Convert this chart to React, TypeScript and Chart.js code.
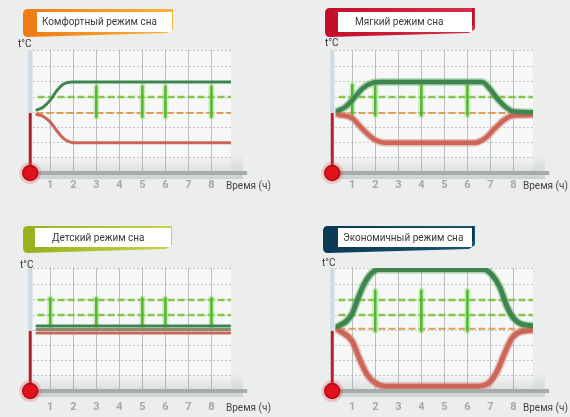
import React, { useEffect, useRef } from "react";
import { Chart, registerables } from "chart.js";

Chart.register(...registerables);
Chart.defaults.font.family = "Roboto, 'Open Sans', sans-serif";

type Pt = [number, number];

// ---------------- data ----------------
const HOURS = [1, 2, 3, 4, 5, 6, 7, 8];
const X_TITLE = "Время (ч)";
const Y_TITLE = "t°C";
const TITLES = ["Комфортный режим сна", "Мягкий режим сна", "Детский режим сна", "Экономичный режим сна"];
const SETPOINT = 3.95;
const X_RANGE: Pt = [0.25, 8.85];
const Y_RANGE: Pt = [0, 8.1];
const THERMO_X = 0.13;
const STAR_X = -0.52;
const AXIS_END = 9.55;

const comfortHigh: Pt[] = [[0.42, 4.15], [0.7, 4.35], [1.0, 4.8], [1.3, 5.45], [1.6, 5.88], [1.95, 6.0], [8.85, 6.0]];
const comfortLow: Pt[] = [[0.42, 3.85], [0.7, 3.72], [1.0, 3.35], [1.3, 2.75], [1.6, 2.25], [2.0, 2.0], [8.85, 2.0]];
const comfortBars = [3, 5, 6, 8];
const comfortBarSpan: Pt = [3.7, 5.7];
const comfortGreenDash = [5];
const comfortOrangeDash = [3.95];

const softHigh: Pt[] = [[0.38, 4.1], [0.7, 4.35], [1.0, 4.8], [1.47, 5.6], [1.9, 5.95], [2.2, 6.0], [6.64, 6.0], [7.0, 5.5], [7.35, 4.8], [7.7, 4.3], [8.0, 4.05], [8.85, 4.0]];
const softLow: Pt[] = [[0.38, 3.85], [1.0, 3.6], [1.47, 2.85], [2.0, 2.17], [2.4, 2.0], [6.35, 2.0], [6.78, 2.3], [7.2, 2.95], [7.6, 3.5], [8.0, 3.78], [8.85, 3.82]];
const softBars = [1, 2, 4, 6];
const softBarSpan: Pt = [3.8, 5.8];
const softGreenDash = [5];
const softOrangeDash = [3.95];

const childHigh: Pt[] = [[0.42, 4.28], [8.8, 4.28]];
const childMid: Pt[] = [[0.42, 4.05], [8.8, 4.05]];
const childLow: Pt[] = [[0.42, 3.82], [8.8, 3.82]];
const childBars = [1, 3, 5, 6, 8];
const childBarSpan: Pt = [4.3, 6.1];
const childGreenDash = [6, 5];
const childOrangeDash: number[] = [];

const ecoHigh: Pt[] = [[0.38, 4.26], [0.75, 4.6], [1.0, 5.1], [1.2, 5.9], [1.5, 7.0], [1.78, 7.66], [2.14, 8.0], [6.7, 8.0], [7.06, 7.66], [7.42, 6.8], [7.71, 5.6], [8.0, 4.8], [8.36, 4.4], [8.85, 4.3]];
const ecoLow: Pt[] = [[0.38, 4.04], [1.0, 3.27], [1.3, 2.17], [1.65, 1.07], [2.0, 0.53], [2.45, 0.31], [6.42, 0.31], [6.93, 0.53], [7.29, 1.3], [7.65, 2.6], [7.94, 3.5], [8.3, 3.9], [8.85, 4.0]];
const ecoBars = [2, 4, 6];
const ecoBarSpan: Pt = [3.95, 6.6];
const ecoGreenDash = [6, 5];
const ecoOrangeDash = [4.1];

// ---------------- layout / styles ----------------
interface Tab { x: number; y: number; w: number; h: number; wx: number; wy: number; ww: number; wh: number; tx: number; ty: number; c0: string; c1: string; edge?: boolean }
interface Spec {
  title: string;
  left: number; top: number; width: number; height: number;
  pad: [number, number, number];
  axisH: number; tickPad: number;
  tab: Tab;
  tC: Pt; timeLbl: Pt;
  high: Pt[]; low: Pt[]; mid?: Pt[];
  lineW: number; halo: boolean;
  bars: number[]; barSpan: Pt;
  greenDash: number[]; orangeDash: number[]; dashFrom: number;
}

const GREEN = "#3f8550";
const RED = "#cb6659";
const TEXT_FONT = "10px Roboto";

const SPECS: Spec[] = [
  {
    title: TITLES[0], left: 0, top: 0, width: 285, height: 208, pad: [33, 54, 50], axisH: 35, tickPad: 6,
    tab: { x: 23, y: 9, w: 150, h: 28, wx: 37, wy: 12, ww: 135, wh: 20, tx: 42, ty: 22, c0: "#ee7a12", c1: "#f7b53c" },
    tC: [18, 44], timeLbl: [226, 186],
    high: comfortHigh, low: comfortLow, lineW: 3, halo: false,
    bars: comfortBars, barSpan: comfortBarSpan, greenDash: comfortGreenDash, orangeDash: comfortOrangeDash, dashFrom: 0.45,
  },
  {
    title: TITLES[1], left: 285, top: 0, width: 285, height: 208, pad: [50, 37, 50], axisH: 35, tickPad: 6,
    tab: { x: 40, y: 8, w: 150, h: 29, wx: 53, wy: 12, ww: 134, wh: 20, tx: 70, ty: 22, c0: "#c30d2a", c1: "#d3304a", edge: true },
    tC: [40, 43], timeLbl: [238, 186],
    high: softHigh, low: softLow, lineW: 4.5, halo: true,
    bars: softBars, barSpan: softBarSpan, greenDash: softGreenDash, orangeDash: softOrangeDash, dashFrom: 0.4,
  },
  {
    title: TITLES[2], left: 0, top: 208, width: 285, height: 209, pad: [33, 54, 60], axisH: 26, tickPad: 10,
    tab: { x: 23, y: 18, w: 149, h: 27, wx: 35, wy: 20, ww: 136, wh: 19, tx: 52, ty: 30, c0: "#97b01c", c1: "#cad24a" },
    tC: [20, 57], timeLbl: [226, 200],
    high: childHigh, low: childLow, mid: childMid, lineW: 3, halo: false,
    bars: childBars, barSpan: childBarSpan, greenDash: childGreenDash, orangeDash: childOrangeDash, dashFrom: 0.45,
  },
  {
    title: TITLES[3], left: 285, top: 208, width: 285, height: 209, pad: [50, 37, 60], axisH: 26, tickPad: 10,
    tab: { x: 38, y: 18, w: 152, h: 27, wx: 53, wy: 20, ww: 134, wh: 19, tx: 58, ty: 30, c0: "#0b3852", c1: "#1c5672", edge: true },
    tC: [37, 55], timeLbl: [238, 200],
    high: ecoHigh, low: ecoLow, lineW: 5, halo: true,
    bars: ecoBars, barSpan: ecoBarSpan, greenDash: ecoGreenDash, orangeDash: ecoOrangeDash, dashFrom: 0.4,
  },
];

const xy = (pts: Pt[]) => pts.map(([x, y]) => ({ x, y }));

function makeStar(size: number, color: string) {
  const c = document.createElement("canvas");
  c.width = size; c.height = size;
  const g = c.getContext("2d")!;
  g.fillStyle = color;
  g.beginPath();
  for (let i = 0; i < 10; i++) {
    const r = i % 2 ? size * 0.22 : size * 0.5;
    const a = -Math.PI / 2 + (i * Math.PI) / 5;
    g.lineTo(size / 2 + r * Math.cos(a), size / 2 + r * Math.sin(a));
  }
  g.closePath();
  g.fill();
  return c;
}

function buildDatasets(s: Spec, star: HTMLCanvasElement) {
  const base = { pointRadius: 0, fill: false, tension: 0, borderCapStyle: "round" as const, spanGaps: false };
  const list: any[] = [];
  s.greenDash.forEach((lv) => list.push({ ...base, data: xy([[s.dashFrom, lv], [X_RANGE[1], lv]]), borderColor: "rgba(120,190,50,0.85)", borderWidth: 2.5, borderDash: [7, 3], borderCapStyle: "butt" }));
  s.orangeDash.forEach((lv) => list.push({ ...base, data: xy([[0.4, lv], [X_RANGE[1], lv]]), borderColor: "rgba(220,150,70,0.9)", borderWidth: 2, borderDash: [7, 3], borderCapStyle: "butt" }));
  const barData = s.bars.flatMap((x) => [{ x, y: s.barSpan[0] }, { x, y: s.barSpan[1] }, { x, y: null }]);
  list.push({ ...base, data: barData, borderColor: "rgba(150,225,100,0.45)", borderWidth: 6 });
  list.push({ ...base, data: barData, borderColor: "#4fb636", borderWidth: 2.5 });
  const curve = (d: Pt[], c: string, w: number) => ({ ...base, data: xy(d), borderColor: c, borderWidth: w, cubicInterpolationMode: "monotone" });
  if (s.halo) {
    list.push(curve(s.low, "rgba(220,140,130,0.55)", s.lineW + 3));
    list.push(curve(s.high, "rgba(110,180,110,0.55)", s.lineW + 3));
  }
  list.push(curve(s.low, RED, s.lineW));
  if (s.mid) list.push(curve(s.mid, "#8e8c6e", 3));
  list.push(curve(s.high, GREEN, s.lineW));
  list.push({ ...base, clip: false, data: xy([[THERMO_X, SETPOINT], [THERMO_X, Y_RANGE[1]]]), borderColor: "rgba(205,216,226,0.95)", borderWidth: 4, borderCapStyle: "butt" });
  list.push({ ...base, clip: false, data: xy([[THERMO_X, 0], [AXIS_END, 0]]), borderColor: "#a7abab", borderWidth: 4, borderCapStyle: "butt" });
  list.push({ ...base, clip: false, showLine: false, data: xy([[AXIS_END, 0]]), pointRadius: 5, pointStyle: "triangle", rotation: 90, pointBackgroundColor: "#a7abab", pointBorderWidth: 0 });
  list.push({ ...base, clip: false, data: xy([[THERMO_X, 0], [THERMO_X, SETPOINT]]), borderColor: "#b3202b", borderWidth: 3, borderCapStyle: "butt" });
  list.push({ ...base, clip: false, showLine: false, data: xy([[THERMO_X, 0]]), pointRadius: 11, pointBackgroundColor: "rgba(235,50,50,0.22)", pointBorderWidth: 0 });
  list.push({ ...base, clip: false, showLine: false, data: xy([[THERMO_X, 0]]), pointRadius: 7.5, pointBackgroundColor: "#e2121c", pointBorderColor: "#a80f18", pointBorderWidth: 1.5 });
  list.push({ ...base, clip: false, showLine: false, data: xy([[STAR_X, SETPOINT]]), pointStyle: star, pointRadius: 5 });
  const n = list.length;
  return list.map((d, i) => ({ ...d, order: n - i }));
}

function decorPlugin(s: Spec) {
  return {
    id: "decor",
    beforeDraw(chart: any) {
      const { ctx, chartArea: a } = chart;
      ctx.save();
      ctx.fillStyle = "#f6f7f7";
      ctx.fillRect(a.left, a.top, a.right - a.left, a.bottom - a.top);
      const g = ctx.createLinearGradient(0, a.bottom - 18, 0, a.bottom + 6);
      g.addColorStop(0, "rgba(170,175,175,0)");
      g.addColorStop(1, "rgba(170,175,175,0.45)");
      ctx.fillStyle = g;
      ctx.fillRect(a.left, a.bottom - 18, a.right - a.left + 12, 24);
      // title tab
      const t = s.tab;
      const tg = ctx.createLinearGradient(t.x, 0, t.x + t.w, 0);
      tg.addColorStop(0, t.c0);
      tg.addColorStop(1, t.c1);
      ctx.fillStyle = tg;
      const r = 5;
      ctx.beginPath();
      ctx.moveTo(t.x + r, t.y);
      ctx.lineTo(t.x + t.w, t.y);
      ctx.lineTo(t.x + t.w, t.y + t.h - 8);
      ctx.lineTo(t.x + t.w - 6, t.y + t.h - 4);
      ctx.lineTo(t.x + r, t.y + t.h);
      ctx.quadraticCurveTo(t.x, t.y + t.h, t.x, t.y + t.h - r);
      ctx.lineTo(t.x, t.y + r);
      ctx.quadraticCurveTo(t.x, t.y, t.x + r, t.y);
      ctx.closePath();
      ctx.fill();
      ctx.fillStyle = "#ffffff";
      ctx.fillRect(t.wx, t.wy, t.ww, t.wh);
      if (t.edge) {
        ctx.fillStyle = t.c0;
        ctx.fillRect(t.wx + t.ww, t.y, 2, t.h - 12);
      }
      ctx.fillStyle = "#3a3a3a";
      ctx.font = TEXT_FONT;
      ctx.textBaseline = "middle";
      ctx.textAlign = "left";
      ctx.fillText(s.title, t.tx, t.ty);
      ctx.fillStyle = "#333";
      ctx.fillText(Y_TITLE, s.tC[0], s.tC[1]);
      ctx.fillStyle = "#444";
      ctx.fillText(X_TITLE, s.timeLbl[0], s.timeLbl[1]);
      ctx.restore();
    },
  };
}

function Panel({ spec }: { spec: Spec }) {
  const ref = useRef<HTMLCanvasElement>(null);
  useEffect(() => {
    const star = makeStar(10, "#d8202a");
    const chart = new Chart(ref.current!, {
      type: "line",
      data: { datasets: buildDatasets(spec, star) },
      options: {
        animation: false,
        responsive: false,
        devicePixelRatio: 1,
        events: [],
        layout: { padding: { left: spec.pad[0], right: spec.pad[1], top: spec.pad[2], bottom: 0 } },
        plugins: { legend: { display: false }, tooltip: { enabled: false } },
        scales: {
          x: {
            type: "linear",
            min: X_RANGE[0],
            max: X_RANGE[1],
            afterBuildTicks: (sc: any) => { sc.ticks = HOURS.map((v) => ({ value: v })); },
            afterFit: (sc: any) => { sc.height = spec.axisH; },
            grid: { color: "rgba(140,146,146,0.55)", lineWidth: 1, drawTicks: false },
            border: { display: false },
            ticks: { color: "#a4a8a8", font: { size: 11, weight: "bold" }, padding: spec.tickPad, autoSkip: false, maxRotation: 0 },
          },
          y: {
            type: "linear",
            min: Y_RANGE[0],
            max: Y_RANGE[1],
            afterFit: (sc: any) => { sc.width = 0; },
            ticks: { display: false, stepSize: 1 },
            grid: { color: "rgba(150,156,156,0.55)", lineWidth: 1, drawTicks: false },
            border: { display: false, dash: [2, 2] },
          },
        },
      } as any,
      plugins: [decorPlugin(spec)],
    } as any);
    return () => chart.destroy();
  }, [spec]);
  return (
    <canvas
      ref={ref}
      width={spec.width}
      height={spec.height}
      style={{ position: "absolute", left: spec.left, top: spec.top, width: spec.width, height: spec.height }}
    />
  );
}

export default function App() {
  return (
    <div style={{ position: "fixed", left: 0, top: 0, width: 570, height: 417, background: "#eceeee", overflow: "hidden" }}>
      {SPECS.map((s, i) => (
        <Panel key={i} spec={s} />
      ))}
    </div>
  );
}
